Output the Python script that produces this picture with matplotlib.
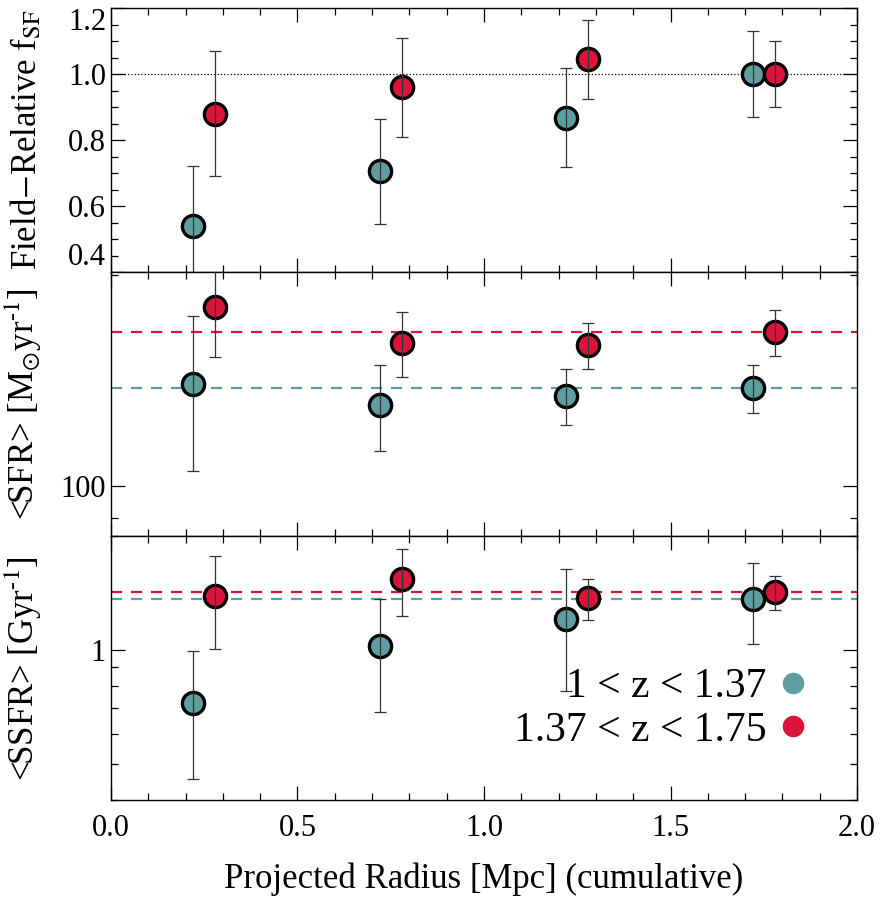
import numpy as np
import matplotlib
matplotlib.use('Agg')
from matplotlib import pyplot as plt
from matplotlib.ticker import FixedLocator, MultipleLocator, NullFormatter, FixedFormatter
from matplotlib.lines import Line2D

plt.rcParams['font.family'] = ['Liberation Serif', 'DejaVu Serif']
plt.rcParams['mathtext.fontset'] = 'stix'

# projected radius bins (Mpc), two redshift bins slightly offset
r_lo = [0.22, 0.72, 1.22, 1.72]
r_hi = [0.28, 0.78, 1.28, 1.78]

# field-relative star-forming fraction
fsf_lo = [0.54, 0.705, 0.867, 1.00]
fsf_lo_err = [0.18, 0.16, 0.15, 0.13]
fsf_hi = [0.88, 0.96, 1.045, 1.00]
fsf_hi_err = [0.19, 0.15, 0.12, 0.10]

# mean SFR (Msun/yr)
sfr_lo = [140, 130.5, 134.5, 138]
sfr_lo_err = [35, 18.5, 12.5, 11]
sfr_hi = [180, 160, 159, 166]
sfr_hi_err = [27, 17, 12, 12.5]
sfr_field_lo = 138
sfr_field_hi = 166

# mean SSFR (1/Gyr)
ssfr_lo = [0.725, 1.025, 1.21, 1.367]
ssfr_lo_err = [0.27, 0.34, 0.43, 0.33]
ssfr_hi = [1.39, 1.54, 1.37, 1.423]
ssfr_hi_err = [0.385, 0.31, 0.17, 0.145]
ssfr_field_lo = 1.367
ssfr_field_hi = 1.423

labels = ['1 < z < 1.37', '1.37 < z < 1.75']
c_lo = '#5F9EA0'
c_hi = '#DC143C'

fig, axes = plt.subplots(3, 1, figsize=(8.8, 8.99), dpi=100, sharex=True)
fig.subplots_adjust(left=0.126, right=0.974, top=0.991, bottom=0.110, hspace=0)

def points(ax, x, y, e, c):
    ax.errorbar(x, y, yerr=e, fmt='none', ecolor='#333333', elinewidth=0.9,
                capsize=4, capthick=0.9, zorder=4)
    ax.plot(x, y, 'o', ms=16, mfc=c, mec='black', mew=2.4, zorder=3)

for ax in axes:
    ax.tick_params(which='both', direction='in', top=True, right=True, labelsize=22)
    ax.tick_params(which='major', length=10, width=0.9)
    ax.tick_params(which='minor', length=5, width=0.9)
    ax.xaxis.set_major_locator(MultipleLocator(0.5))
    ax.xaxis.set_minor_locator(MultipleLocator(0.1))
    for s in ax.spines.values():
        s.set_linewidth(1.0)
    ax.set_xlim(0, 2.0)

# top panel
ax = axes[0]
ax.axhline(1.0, color='black', ls=':', lw=0.9, zorder=1)
points(ax, r_lo, fsf_lo, fsf_lo_err, c_lo)
points(ax, r_hi, fsf_hi, fsf_hi_err, c_hi)
ax.set_ylim(0.4, 1.2)
ax.yaxis.set_major_locator(FixedLocator([0.4, 0.6, 0.8, 1.0, 1.2]))
ax.yaxis.set_major_formatter(FixedFormatter(['0.4', '0.6', '0.8', '1.0', '1.2']))
ax.yaxis.set_minor_locator(MultipleLocator(0.05))
ax.set_ylabel(r'Field$-$Relative f$_{\mathrm{SF}}$', fontsize=25)
tl = ax.get_yticklabels()
tl[0].set_va('bottom')
tl[-1].set_va('top')

# middle panel
ax = axes[1]
ax.set_yscale('log')
ax.axhline(sfr_field_hi, color=c_hi, ls=(0, (5, 4)), lw=1.6, zorder=1)
ax.axhline(sfr_field_lo, color=c_lo, ls=(0, (5, 4)), lw=1.6, zorder=1)
points(ax, r_lo, sfr_lo, sfr_lo_err, c_lo)
points(ax, r_hi, sfr_hi, sfr_hi_err, c_hi)
ax.set_ylim(84.8, 202)
ax.yaxis.set_major_locator(FixedLocator([100]))
ax.yaxis.set_major_formatter(FixedFormatter(['100']))
ax.yaxis.set_minor_locator(FixedLocator([90, 200]))
ax.yaxis.set_minor_formatter(NullFormatter())
ax.set_ylabel(r'<SFR> [M$_{\odot}$yr$^{\text{-}1}$]', fontsize=25)

# bottom panel
ax = axes[2]
ax.set_yscale('log')
ax.axhline(ssfr_field_hi, color=c_hi, ls=(0, (5, 4)), lw=1.6, zorder=1)
ax.axhline(ssfr_field_lo, color=c_lo, ls=(0, (5, 4)), lw=1.6, zorder=1)
points(ax, r_lo, ssfr_lo, ssfr_lo_err, c_lo)
points(ax, r_hi, ssfr_hi, ssfr_hi_err, c_hi)
ax.set_ylim(0.40, 2.0)
ax.yaxis.set_major_locator(FixedLocator([1]))
ax.yaxis.set_major_formatter(FixedFormatter(['1']))
ax.yaxis.set_minor_locator(FixedLocator([0.4, 0.5, 0.6, 0.7, 0.8, 0.9, 2.0]))
ax.yaxis.set_minor_formatter(NullFormatter())
ax.set_ylabel(r'<SSFR> [Gyr$^{\text{-}1}$]', fontsize=25)
ax.set_xticks([0.0, 0.5, 1.0, 1.5, 2.0])
ax.set_xticklabels(['0.0', '0.5', '1.0', '1.5', '2.0'])
ax.tick_params(axis='x', pad=10)
ax.set_xlabel('Projected Radius [Mpc] (cumulative)', fontsize=25, labelpad=14)

for ax in axes:
    ax.yaxis.set_label_coords(-0.09, 0.5)

handles = [Line2D([], [], ls='none', marker='o', ms=15.5, mfc=c_lo, mec='none'),
           Line2D([], [], ls='none', marker='o', ms=15.5, mfc=c_hi, mec='none')]
ax.legend(handles, labels, loc='lower right', bbox_to_anchor=(0.937, 0.19),
          frameon=False, markerfirst=False, fontsize=30, handlelength=0.8,
          handletextpad=0.25, labelspacing=0.12, borderpad=0, borderaxespad=0)

plt.savefig('out.png', dpi=100)
